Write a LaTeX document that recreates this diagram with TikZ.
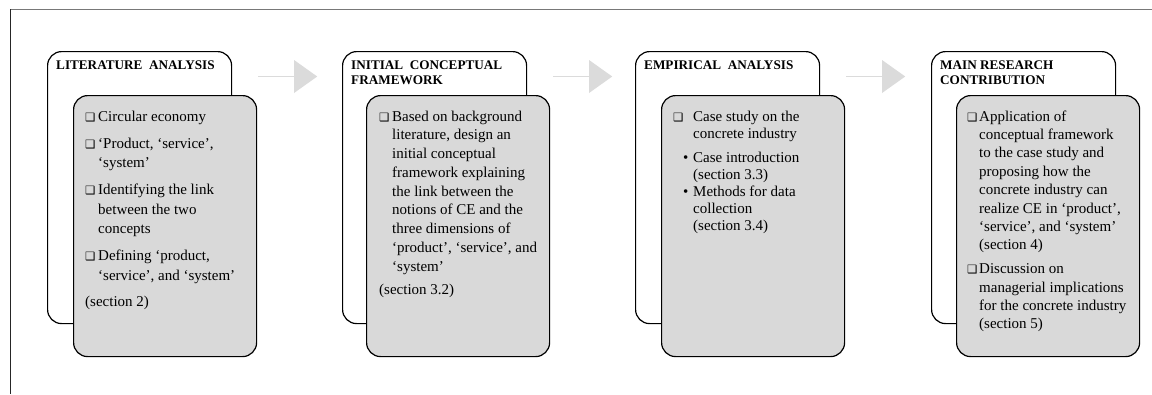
\documentclass[tikz,border=0pt]{standalone}
\usepackage{fontspec}
\setmainfont{Liberation Serif}
\newfontfamily\symfont{DejaVu Sans}
\usetikzlibrary{shapes.arrows}
\definecolor{boxgray}{RGB}{217,217,217}
\definecolor{arrowgray}{RGB}{219,219,219}
\definecolor{framegray}{RGB}{120,120,120}
\newcommand{\cbglyph}{{\symfont\fontsize{11.5}{11.5}\selectfont ❑}}
\newcommand{\cbx}[2][13pt]{\par\noindent\hangindent=#1\hangafter=1\makebox[#1][l]{\cbglyph}#2\par}
\newcommand{\bulx}[1]{\par\noindent\hangindent=20pt\hangafter=1\hspace*{10pt}\makebox[10pt][l]{•}#1\par}
\newcommand{\bodyfont}[1]{\fontsize{15}{#1}\selectfont}
\newcommand{\nl}{\newline}
\tikzset{
  backbox/.style={draw=black, line width=1.2pt, rounded corners=14pt, fill=white,
    anchor=north west, inner sep=0pt, minimum width=184pt, minimum height=272pt},
  frontbox/.style={draw=black, line width=1.2pt, rounded corners=14pt, fill=boxgray,
    anchor=north west, inner sep=0pt, minimum width=183pt, minimum height=261pt},
  flowarrow/.style={single arrow, fill=arrowgray, draw=none, inner sep=0pt,
    minimum height=59pt, minimum width=33pt, single arrow head extend=7pt,
    single arrow tip angle=71, anchor=west},
  titletext/.style={anchor=base west, inner sep=0pt, align=left,
    font=\bfseries\fontsize{13.2}{15}\selectfont},
  bodytext/.style={anchor=base west, inner sep=0pt},
}
\begin{document}
\begin{tikzpicture}[x=1pt,y=-1pt]
\useasboundingbox (0,0) rectangle (1152,394);
% outer frame
\coordinate (ftl) at (10,9);
\coordinate (ftr) at (1152,9);
\coordinate (fbl) at (10,394);
\draw[framegray, line width=0.9pt] (ftl) -- (ftr);
\draw[black!85, line width=0.9pt] (ftl) -- (fbl);

% back boxes
\node[backbox] (w1) at (47,51) {};
\node[backbox] (w2) at (342,51) {};
\node[backbox] (w3) at (635,51) {};
\node[backbox] (w4) at (931,51) {};

% titles (base anchor = last line)
\node[titletext] (t1) at (56,69) {LITERATURE\ \ ANALYSIS};
\node[titletext] (t2) at (351,84) {INITIAL\ \ CONCEPTUAL\\FRAMEWORK};
\node[titletext] (t3) at (644,69) {EMPIRICAL\ \ ANALYSIS};
\node[titletext] (t4) at (940,84) {MAIN RESEARCH\\CONTRIBUTION};

% front boxes
\node[frontbox] (g1) at (73,95) {};
\node[frontbox] (g2) at (366,95) {};
\node[frontbox] (g3) at (661,95) {};
\node[frontbox] (g4) at (956,95) {};

% arrows
\node[flowarrow] (a1) at (258,76.5) {};
\node[flowarrow] (a2) at (553,76.5) {};
\node[flowarrow] (a3) at (846,76.5) {};

% body texts
\node[bodytext] (b1) at (85,121) {\parbox[t]{175pt}{\bodyfont{19.3}\setlength{\parskip}{8pt}%
\cbx{Circular economy}
\cbx{‘Product, ‘service’,\nl ‘system’}
\cbx{Identifying the link\nl between the two\nl concepts}
\cbx{Defining ‘product,\nl ‘service’, and ‘system’}
\vspace{-1pt}\noindent(section 2)}};

\node[bodytext] (b2) at (379,121) {\parbox[t]{175pt}{\bodyfont{18.75}\setlength{\parskip}{4.5pt}%
\cbx{Based on background\nl literature, design an\nl initial conceptual\nl framework explaining\nl the link between the\nl notions of CE and the\nl three dimensions of\nl ‘product’, ‘service’, and\nl ‘system’}
\noindent(section 3.2)}};

\node[bodytext] (b3) at (673,121) {\parbox[t]{175pt}{\bodyfont{17}\setlength{\parskip}{0pt}%
\cbx[20pt]{Case study on the\nl concrete industry}
\vspace{7pt}
\bulx{Case introduction\nl (section 3.3)}
\bulx{Methods for data\nl collection\nl (section 3.4)}}};

\node[bodytext] (b4) at (967,121) {\parbox[t]{175pt}{\bodyfont{18.4}\setlength{\parskip}{5.5pt}%
\cbx[12pt]{Application of\nl conceptual framework\nl to the case study and\nl proposing how the\nl concrete industry can\nl realize CE in ‘product’,\nl ‘service’, and ‘system’\nl (section 4)}
\cbx[12pt]{Discussion on\nl managerial implications\nl for the concrete industry\nl (section 5)}}};
\end{tikzpicture}
\end{document}
